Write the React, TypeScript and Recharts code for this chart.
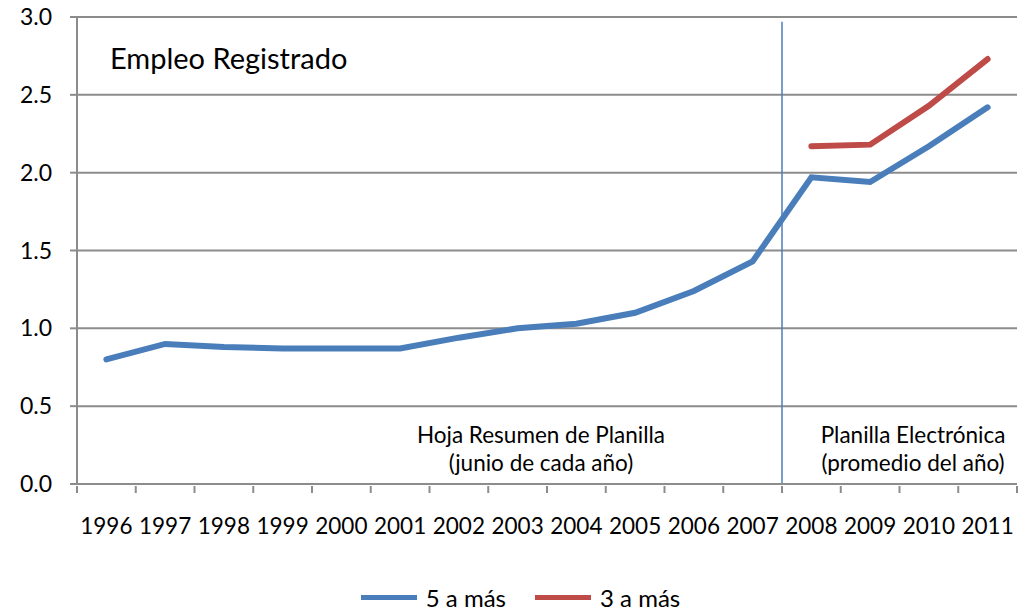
import React from 'react';
import { LineChart, Line, XAxis, YAxis, CartesianGrid, ReferenceLine } from 'recharts';

const years = ['1996', '1997', '1998', '1999', '2000', '2001', '2002', '2003', '2004', '2005', '2006', '2007', '2008', '2009', '2010', '2011'];
const cincoAMas = [0.80, 0.90, 0.88, 0.87, 0.87, 0.87, 0.94, 1.00, 1.03, 1.10, 1.24, 1.43, 1.97, 1.94, 2.17, 2.42];
const tresAMas: (number | null)[] = [null, null, null, null, null, null, null, null, null, null, null, null, 2.17, 2.18, 2.43, 2.73];
const yTicks = [0, 0.5, 1, 1.5, 2, 2.5, 3];

const BLUE = '#4A7EBB';
const RED = '#BE4B48';
const GREY = '#8C8C8C';
const FONT = 'Lato, "Open Sans", sans-serif';

// x positions sit at category centres (i + 0.5) on a numeric axis 0..16
const data = years.map((y, i) => ({ x: i + 0.5, year: y, a: cincoAMas[i], b: tresAMas[i] }));
const xTicks = Array.from({ length: 33 }, (_, i) => i / 2);

const XTick = (props: any) => {
  const { x, y, payload } = props;
  const v = payload.value as number;
  if (Number.isInteger(v)) {
    return <line x1={x} x2={x} y1={y} y2={y + 7} stroke={GREY} strokeWidth={2} />;
  }
  return (
    <text x={x} y={y + 48} textAnchor="middle" fontSize={22.5} fill="#000" fontFamily={FONT}>
      {years[Math.floor(v)]}
    </text>
  );
};

export default function App() {
  return (
    <div style={{ position: 'relative', width: 1021, height: 610, background: '#fff', fontFamily: FONT }}>
      <style>{`body{margin:0}`}</style>
      <LineChart width={1021} height={610} data={data} margin={{ top: 17, right: 4, left: 0, bottom: 36 }}>
        <CartesianGrid vertical={false} stroke={GREY} strokeWidth={2} />
        <XAxis
          dataKey="x"
          type="number"
          domain={[0, 16]}
          ticks={xTicks}
          interval={0}
          tick={<XTick />}
          tickLine={false}
          tickSize={0}
          height={90}
          axisLine={{ stroke: GREY, strokeWidth: 2 }}
        />
        <YAxis
          domain={[0, 3]}
          ticks={yTicks}
          width={77}
          tickSize={7}
          tickMargin={18}
          tickLine={{ stroke: GREY, strokeWidth: 2 }}
          axisLine={{ stroke: GREY, strokeWidth: 2 }}
          tickFormatter={(v: number) => v.toFixed(1)}
          tick={{ fill: '#000', fontSize: 23, fontFamily: FONT }}
        />
        <ReferenceLine segment={[{ x: 12, y: 2.97 }, { x: 12, y: 0 }]} stroke={BLUE} strokeWidth={1.5} />
        <Line type="linear" dataKey="a" name="5 a más" stroke={BLUE} strokeWidth={6} dot={false} isAnimationActive={false} strokeLinecap="round" />
        <Line type="linear" dataKey="b" name="3 a más" stroke={RED} strokeWidth={6} dot={false} isAnimationActive={false} strokeLinecap="round" connectNulls={false} />
      </LineChart>

      <div style={{ position: 'absolute', left: 110, top: 40, fontSize: 29 }}>Empleo Registrado</div>
      <div style={{ position: 'absolute', left: 391, width: 300, top: 421, fontSize: 22.5, textAlign: 'center', lineHeight: '28px' }}>
        Hoja Resumen de Planilla<br />(junio de cada año)
      </div>
      <div style={{ position: 'absolute', left: 813, width: 200, top: 421, fontSize: 22.5, textAlign: 'center', lineHeight: '28px' }}>
        Planilla Electrónica<br />(promedio del año)
      </div>

      <div style={{ position: 'absolute', left: 10, width: 1021, top: 583, display: 'flex', justifyContent: 'center', alignItems: 'center', fontSize: 24 }}>
        <span style={{ display: 'inline-block', width: 56, height: 5, background: BLUE, marginRight: 9 }} />
        <span style={{ marginRight: 29 }}>5 a más</span>
        <span style={{ display: 'inline-block', width: 56, height: 5, background: RED, marginRight: 9 }} />
        <span>3 a más</span>
      </div>
    </div>
  );
}
